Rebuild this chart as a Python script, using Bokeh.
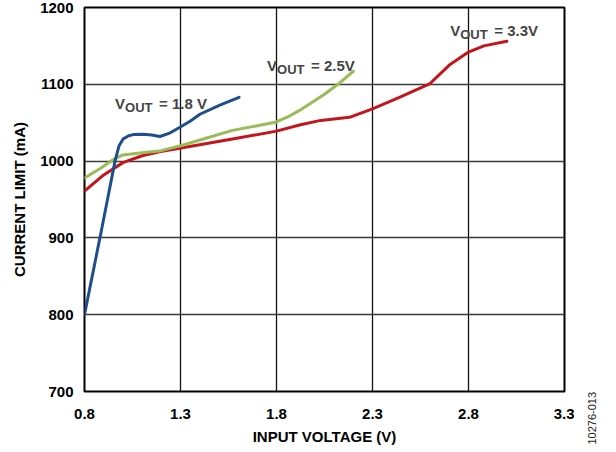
import math
from bokeh.plotting import figure
from bokeh.layouts import row
from bokeh.models import Range1d, FixedTicker, Label
from bokeh.embed import file_html
from bokeh.resources import INLINE

# ---- data ----
x_ticks = [0.8, 1.3, 1.8, 2.3, 2.8, 3.3]
y_ticks = [700, 800, 900, 1000, 1100, 1200]

v18_x = [0.80, 0.889, 0.93, 0.959, 0.98, 1.002, 1.03, 1.054, 1.106, 1.15, 1.193, 1.24, 1.297, 1.35, 1.401, 1.505, 1.605]
v18_y = [800, 911, 963, 1000, 1020, 1029, 1033, 1034.5, 1035, 1034, 1032, 1036, 1044, 1052, 1061, 1073, 1083]

v25_x = [0.80, 0.88, 0.95, 1.00, 1.10, 1.19, 1.30, 1.45, 1.57, 1.70, 1.80, 1.87, 1.92, 1.97, 2.05, 2.12, 2.20]
v25_y = [978, 990, 1002, 1008, 1011, 1013, 1020, 1031, 1040, 1046, 1051, 1059, 1066, 1074, 1087, 1100, 1117]

v33_x = [0.80, 0.90, 1.00, 1.10, 1.19, 1.37, 1.60, 1.80, 1.92, 2.03, 2.18, 2.30, 2.44, 2.60, 2.70, 2.80, 2.88, 3.00]
v33_y = [961, 982, 998, 1007, 1012, 1020, 1030, 1039, 1047, 1053, 1057, 1068, 1083, 1101, 1125, 1142, 1150, 1156]

series_labels = [
    # (x, y, rest-of-text)
    (0.959, 1075.6, "= 1.8 V"),
    (1.751, 1124.7, "= 2.5V"),
    (2.705, 1169.6, "= 3.3V"),
]
colors = ["#1f4e8c", "#9bbb59", "#c3161c"]
figure_id = "10276-013"

FONT = "Liberation Sans"
H = 447

p = figure(width=574, height=H, output_backend="svg", toolbar_location=None,
           x_range=Range1d(0.8, 3.3), y_range=Range1d(700, 1200),
           min_border_left=84, min_border_right=10, min_border_top=7, min_border_bottom=52)
p.background_fill_color = "white"
p.border_fill_color = "white"
p.outline_line_color = "black"
p.outline_line_width = 2

for ax in (p.xaxis[0], p.yaxis[0]):
    ax.axis_line_color = None
    ax.major_tick_line_color = None
    ax.minor_tick_line_color = None
    ax.major_label_text_font = FONT
    ax.major_label_text_font_style = "bold"
    ax.major_label_text_font_size = "15px"
    ax.major_label_text_color = "black"
    ax.axis_label_text_font = FONT
    ax.axis_label_text_font_style = "bold"
    ax.axis_label_text_font_size = "15px"
    ax.axis_label_text_color = "black"

p.xaxis[0].ticker = FixedTicker(ticks=x_ticks)
p.yaxis[0].ticker = FixedTicker(ticks=y_ticks)
p.xaxis[0].axis_label = "INPUT VOLTAGE (V)"
p.yaxis[0].axis_label = "CURRENT LIMIT (mA)"
p.xaxis[0].major_label_standoff = 11
p.yaxis[0].major_label_standoff = 5
p.xaxis[0].axis_label_standoff = 6
p.yaxis[0].axis_label_standoff = 9

p.xgrid[0].ticker = FixedTicker(ticks=x_ticks)
p.ygrid[0].ticker = FixedTicker(ticks=y_ticks)
p.xgrid[0].grid_line_color = "#111111"
p.ygrid[0].grid_line_color = "#3a3a3a"
p.xgrid[0].grid_line_width = 1.3
p.ygrid[0].grid_line_width = 1.3

for xs, ys, c in [(v33_x, v33_y, colors[2]), (v25_x, v25_y, colors[1]), (v18_x, v18_y, colors[0])]:
    p.line(xs, ys, line_color=c, line_width=3, line_join="round", line_cap="round")

for (lx, ly, rest) in series_labels:
    p.add_layout(Label(x=lx, y=ly, text="V", text_font=FONT, text_font_style="bold",
                       text_font_size="15px", text_baseline="alphabetic", text_align="left"))
    p.add_layout(Label(x=lx, y=ly, x_offset=10, y_offset=-4, text="OUT", text_font=FONT,
                       text_font_style="bold", text_font_size="13px",
                       text_baseline="alphabetic", text_align="left"))
    p.add_layout(Label(x=lx, y=ly, x_offset=44, text=rest, text_font=FONT,
                       text_font_style="bold", text_font_size="15px",
                       text_baseline="alphabetic", text_align="left"))

# narrow side panel holding the rotated figure id
p2 = figure(width=26, height=H, output_backend="svg", toolbar_location=None,
            x_range=Range1d(0, 1), y_range=Range1d(0, H),
            min_border=0)
if "frame_align" in p2.properties():
    p2.frame_align = False
p2.axis.visible = False
p2.grid.visible = False
p2.outline_line_color = None
p2.background_fill_color = None
p2.border_fill_color = None
p2.add_layout(Label(x=0.68, y=3, text=figure_id, angle=math.pi / 2,
                    text_font=FONT, text_font_size="11px", text_color="#222222",
                    text_baseline="middle", text_align="left"))

layout = row(p, p2)
open("out.html", "w").write(file_html(layout, INLINE))
